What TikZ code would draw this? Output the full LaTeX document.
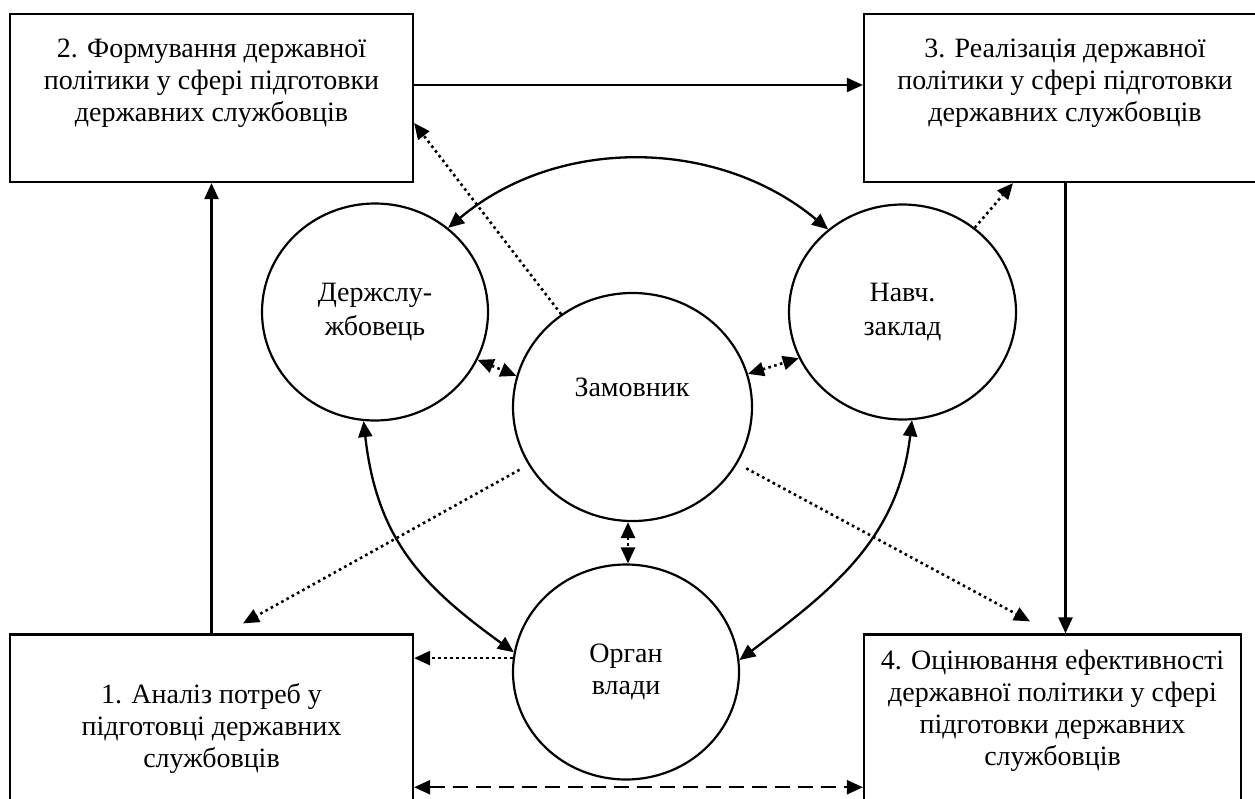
\documentclass[tikz,border=0pt]{standalone}
\usepackage{fontspec}
\setmainfont{Liberation Serif}
\usetikzlibrary{arrows.meta,shapes.geometric,calc}
\newcommand{\fs}{\fontsize{28}{32}\selectfont}
\newcommand{\fc}{\fontsize{28}{34}\selectfont}
\tikzset{
  x=1pt, y=1pt,
  box/.style={draw, line width=2.2pt, rectangle, inner sep=0pt},
  ell/.style={draw, line width=2.2pt, ellipse, inner sep=0pt, align=center, font=\fc},
  txt/.style={align=center, font=\fs, inner sep=0pt},
  solidln/.style={line width=2.3pt},
  dotln/.style={line width=2.6pt, dash pattern=on 2.6pt off 3.4pt},
  dashln/.style={line width=2.3pt, dash pattern=on 15pt off 8pt},
  tipend/.style={-{Triangle[length=16pt,width=14pt]}},
  tipboth/.style={{Triangle[length=16pt,width=14pt]}-{Triangle[length=16pt,width=14pt]}},
}
\begin{document}
\begin{tikzpicture}
\useasboundingbox (0,0) rectangle (1255,-798);
\clip (0,0) rectangle (1255,-798);
\fill[white] (0,0) rectangle (1255,-798);

% boxes
\node[box, minimum width=403pt, minimum height=168pt] (b2) at (211.5,-98) {};
\node[box, minimum width=403pt, minimum height=168pt] (b3) at (1065.5,-98) {};
\node[box, minimum width=403pt, minimum height=185.5pt] (b1) at (211.5,-727.25) {};
\node[box, minimum width=377pt, minimum height=185.5pt] (b4) at (1052.5,-727.25) {};

\node[txt] (t2) at (211.5,-83) {2. Формування державної\\політики у сфері підготовки\\державних службовців};
\node[txt] (t3) at (1065,-83) {3. Реалізація державної\\політики у сфері підготовки\\державних службовців};
\node[txt] (t1) at (211.5,-728) {1. Аналіз потреб у\\підготовці державних\\службовців};
\node[txt] (t4) at (1052.5,-711) {4. Оцінювання ефективності\\державної політики у сфері\\підготовки державних\\службовців};

% ellipses
\node[ell, minimum width=226pt, minimum height=217pt] (dz) at (375,-312) {Держслу-\\жбовець};
\node[ell, minimum width=227pt, minimum height=215pt] (nz) at (902.5,-312) {Навч.\\заклад};
\node[ell, minimum width=239pt, minimum height=228pt] (zam) at (632.5,-407) {};
\node[txt] (tzam) at (632,-387) {Замовник};
\node[ell, font=\fs, minimum width=226pt, minimum height=215pt] (org) at (626,-672) {Орган\\влади};

% solid box arrows
\draw[solidln, tipend] ([yshift=13pt]b2.east) -- ([yshift=13pt]b3.west);
\draw[solidln, tipend] (b3.south) -- (b3.south |- b4.north);
\draw[solidln, tipend] (b1.north) -- (b1.north |- b2.south);
\draw[dashln, tipboth] ([yshift=-60pt]b1.east) -- ([yshift=-60pt]b4.west);

% curved arrows
\draw[solidln, tipboth] (dz.49) .. controls (558,-135.7) and (718,-137.7) .. (nz.132);
\draw[solidln, tipboth] (dz.264) .. controls (377,-541) and (424,-587) .. (org.170.7);
\draw[solidln, tipboth] (nz.275) .. controls (898,-541) and (829,-592) .. (org.6.8);

% dotted connections
\coordinate (p2) at ([yshift=-25pt]b2.east);
\coordinate (p3) at ([xshift=-52.5pt]b3.south);
\coordinate (p1) at ([xshift=31.5pt,yshift=10pt]b1.north);
\coordinate (p4) at ([xshift=-22.5pt,yshift=12pt]b4.north);
\draw[dotln, tipend] (zam) -- (p2);
\draw[dotln, tipend] (nz) -- (p3);
\draw[dotln, tipend, shorten <=10pt] (zam) -- (p1);
\draw[dotln, tipend, shorten <=10pt] (zam) -- (p4);
\draw[dotln, tipend] (org.173.6) -- (org.173.6 -| b1.east);
\draw[dotln, tipboth] (dz.-25.5) -- (zam.165.4);
\draw[dotln, tipboth] (zam.16.4) -- (nz.-156);
\draw[dotln, tipboth] ([xshift=-4.5pt]zam.south) -- ([xshift=2pt]org.north);
\end{tikzpicture}
\end{document}
